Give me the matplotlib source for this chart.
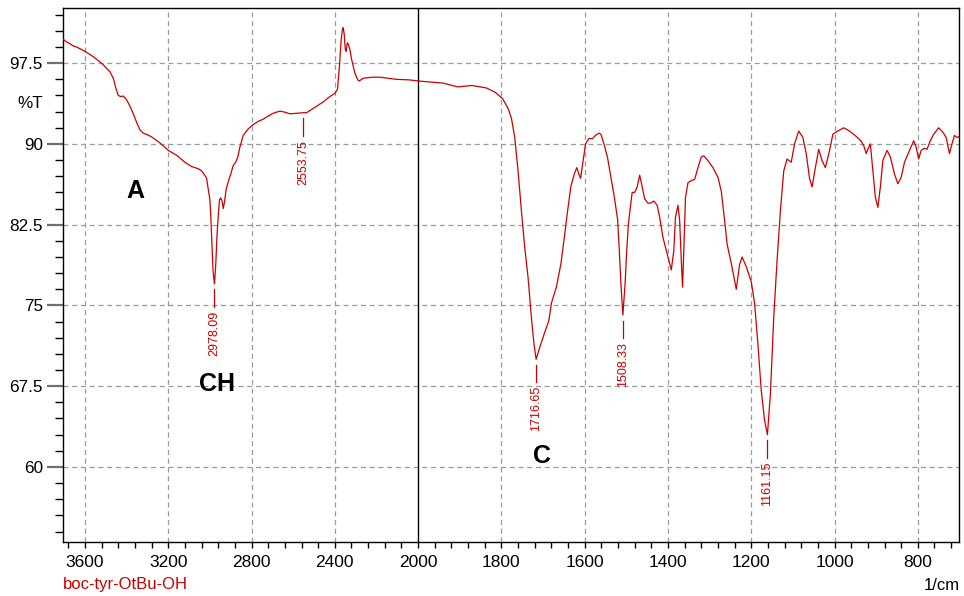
import numpy as np
import matplotlib
matplotlib.use('Agg')
import matplotlib.pyplot as plt
from matplotlib.ticker import FixedLocator, FuncFormatter

# spectrum boc-tyr-OtBu-OH
wavenumber = [3704, 3690, 3672, 3656, 3640, 3600, 3560, 3520, 3480, 3464, 3452, 3440,
              3428, 3416, 3400, 3384, 3368, 3352, 3336, 3320, 3300, 3280, 3240, 3200,
              3160, 3120, 3088, 3056, 3040, 3025, 3016, 3008, 3000, 2996, 2990, 2985,
              2978.09, 2972, 2966, 2960, 2954, 2948, 2942, 2936, 2930, 2922, 2910, 2900,
              2888, 2876, 2866, 2856, 2840, 2816, 2792, 2768, 2744, 2728, 2696, 2664,
              2640, 2616, 2580, 2553.75, 2536, 2504, 2456, 2424, 2400, 2387, 2378, 2370,
              2364, 2360, 2355, 2350, 2346, 2340, 2334, 2328, 2320, 2304, 2290, 2283,
              2264, 2220, 2184, 2104, 2043, 2000, 1940, 1905, 1871, 1836, 1815, 1797,
              1784, 1776, 1768, 1760, 1752, 1744, 1736, 1728, 1722, 1716.65, 1708, 1696,
              1686, 1680, 1668, 1657, 1649, 1641, 1633, 1625, 1619, 1614, 1610, 1605,
              1598, 1590, 1581, 1574, 1566, 1561, 1553, 1545, 1537, 1529, 1521, 1517,
              1513, 1508.33, 1503, 1499, 1495, 1490, 1486, 1480, 1474, 1468, 1464, 1456,
              1448, 1442, 1434, 1426, 1420, 1412, 1402, 1392, 1386, 1382, 1376, 1372,
              1368, 1365, 1362, 1358, 1352, 1344, 1336, 1328, 1320, 1314, 1304, 1292,
              1280, 1272, 1264, 1258, 1248, 1236, 1228, 1222, 1212, 1200, 1192, 1184,
              1176, 1168, 1161.15, 1154, 1146, 1138, 1130, 1122, 1114, 1104, 1096, 1086,
              1076, 1068, 1060, 1054, 1046, 1038, 1030, 1022, 1012, 1004, 992, 978,
              964, 948, 936, 930, 924, 919, 914, 908, 902, 896, 890, 884,
              874, 866, 856, 848, 840, 832, 820, 810, 804, 798, 792, 784,
              778, 770, 762, 750, 740, 732, 724, 718, 712, 706, 700]
transmittance = [99.7, 99.5, 99.3, 99.1, 99.0, 98.6, 98.1, 97.5, 96.7, 96.1, 95.2, 94.5,
                 94.4, 94.45, 94.1, 93.5, 92.8, 92.0, 91.3, 91.0, 90.85, 90.65, 90.1, 89.4,
                 88.95, 88.3, 87.9, 87.7, 87.5, 87.1, 86.8, 85.8, 84.8, 83.4, 80.5, 78.2,
                 77.0, 78.8, 81.5, 83.3, 84.8, 85.0, 84.7, 84.0, 84.6, 85.8, 86.6, 87.2,
                 88.0, 88.3, 88.8, 89.7, 90.8, 91.4, 91.8, 92.1, 92.3, 92.5, 92.85, 93.05,
                 92.95, 92.8, 92.85, 92.9, 92.9, 93.3, 93.9, 94.4, 94.7, 95.1, 97.2, 99.6,
                 100.6, 100.8, 100.2, 98.8, 98.6, 99.4, 99.2, 98.8, 97.9, 96.6, 95.95, 95.85,
                 96.1, 96.2, 96.2, 96.0, 95.95, 95.85, 95.65, 95.3, 95.43, 95.2, 94.8, 94.2,
                 93.3, 92.4, 90.6, 87.5, 83.8, 80.4, 77.6, 73.9, 71.5, 70.0, 71.1, 72.5,
                 73.6, 75.2, 76.7, 78.9, 81.3, 83.8, 86.1, 87.2, 87.8, 87.2, 86.8, 88.1,
                 90.0, 90.5, 90.5, 90.8, 91.0, 90.9, 89.9, 88.7, 86.9, 85.1, 83.0, 80.2,
                 77.0, 74.1, 77.0, 80.1, 82.6, 84.2, 85.5, 85.5, 86.0, 87.1, 86.4, 84.9,
                 84.5, 84.5, 84.7, 84.3, 83.2, 81.3, 79.8, 78.3, 80.1, 83.2, 84.3, 82.9,
                 79.2, 76.7, 80.1, 85.0, 86.4, 86.6, 86.7, 87.8, 88.8, 88.9, 88.45, 87.8,
                 86.9, 85.6, 82.9, 80.7, 78.9, 76.5, 78.8, 79.5, 78.6, 77.2, 75.2, 71.4,
                 67.1, 64.3, 63.0, 66.8, 73.9, 79.2, 83.8, 87.5, 88.6, 88.3, 90.0, 91.2,
                 90.6, 89.1, 86.8, 86.0, 87.8, 89.5, 88.45, 87.8, 89.4, 90.9, 91.2, 91.5,
                 91.2, 90.7, 90.25, 89.85, 89.1, 89.6, 90.0, 87.5, 85.05, 84.1, 86.0, 88.45,
                 89.4, 88.8, 87.2, 86.3, 86.9, 88.3, 89.4, 90.3, 89.7, 88.6, 89.4, 89.6,
                 89.5, 90.3, 90.9, 91.5, 91.1, 90.6, 89.1, 90.0, 90.8, 90.6, 90.7]

peak_pos = [2978.09, 2553.75, 1716.65, 1508.33, 1161.15]
peak_val = [77.0, 92.9, 70.0, 74.1, 63.0]

region_labels = ['A', 'CH', 'C']
region_x = [3360, 2968, 1703]
region_y = [85.6, 67.7, 61.0]

x_major = [3600, 3200, 2800, 2400, 2000, 1800, 1600, 1400, 1200, 1000, 800]
y_major = [60, 67.5, 75, 82.5, 90, 97.5]

red = '#cc0000'
plt.rcParams['font.family'] = ['Liberation Sans', 'DejaVu Sans']


# wavenumbers above 2000 are drawn at half scale
def fwd(w):
    w = np.asarray(w, dtype=float)
    return np.where(w > 2000, 2000 + (w - 2000) / 2, w)


def inv(u):
    u = np.asarray(u, dtype=float)
    return np.where(u > 2000, 2000 + (u - 2000) * 2, u)


fig = plt.figure(figsize=(9.64, 5.96), dpi=100)
ax = fig.add_axes([0.0657, 0.0901, 0.9296, 0.8960])
ax.set_xscale('function', functions=(fwd, inv))
ax.set_xlim(3704, 700)
ax.set_ylim(53.0, 102.6)

ax.plot(wavenumber, transmittance, color=red, lw=0.9, zorder=3)
ax.axvline(2000, color='black', lw=1.0, zorder=2)

# ticks
x_minor = list(range(3680, 2000, -80)) + list(range(1960, 699, -40))
ax.xaxis.set_major_locator(FixedLocator(x_major))
ax.xaxis.set_minor_locator(FixedLocator(x_minor))
ax.xaxis.set_major_formatter(FuncFormatter(lambda v, p: '%d' % round(v)))
ax.xaxis.set_minor_formatter(FuncFormatter(lambda v, p: ''))
ax.yaxis.set_major_locator(FixedLocator(y_major))
ax.yaxis.set_minor_locator(FixedLocator(list(np.arange(54, 102.1, 1.5))))
ax.yaxis.set_major_formatter(FuncFormatter(lambda v, p: '%g' % v))

ax.tick_params(axis='x', which='both', direction='out', length=4.5, width=1,
               labelsize=12.5, pad=5)
ax.tick_params(axis='y', which='major', direction='out', length=11.3, width=1.6,
               color='#707070', labelsize=12.3, pad=3.5)
ax.tick_params(axis='y', which='minor', direction='out', length=6, width=1)

ax.grid(True, which='major', color='#9a9a9a', lw=0.9, ls=(0, (4, 3)))
ax.xaxis.get_gridlines()[4].set_visible(False)
for s in ax.spines.values():
    s.set_linewidth(1.0)

ax.annotate('%T', xy=(0, 93.8), xycoords=('axes fraction', 'data'),
            xytext=(-14.6, 0), textcoords='offset points',
            ha='right', va='center', fontsize=12.3)

# peak markers
for x, y in zip(peak_pos, peak_val):
    ax.plot([x, x], [y - 0.5, y - 2.15], color=red, lw=0.9)
    ax.text(x, y - 2.5, '%.2f' % x, rotation=90, ha='center', va='top',
            color=red, fontsize=9)

for t, x, y in zip(region_labels, region_x, region_y):
    ax.text(x, y, t, ha='center', va='center', fontsize=18, fontweight='bold')

fig.text(63 / 964, 1 - 584 / 596, 'boc-tyr-OtBu-OH', color=red, fontsize=12,
         ha='left', va='center')
fig.text(960 / 964, 1 - 585 / 596, '1/cm', fontsize=12, ha='right', va='center')

fig.savefig('out.png', dpi=100)
